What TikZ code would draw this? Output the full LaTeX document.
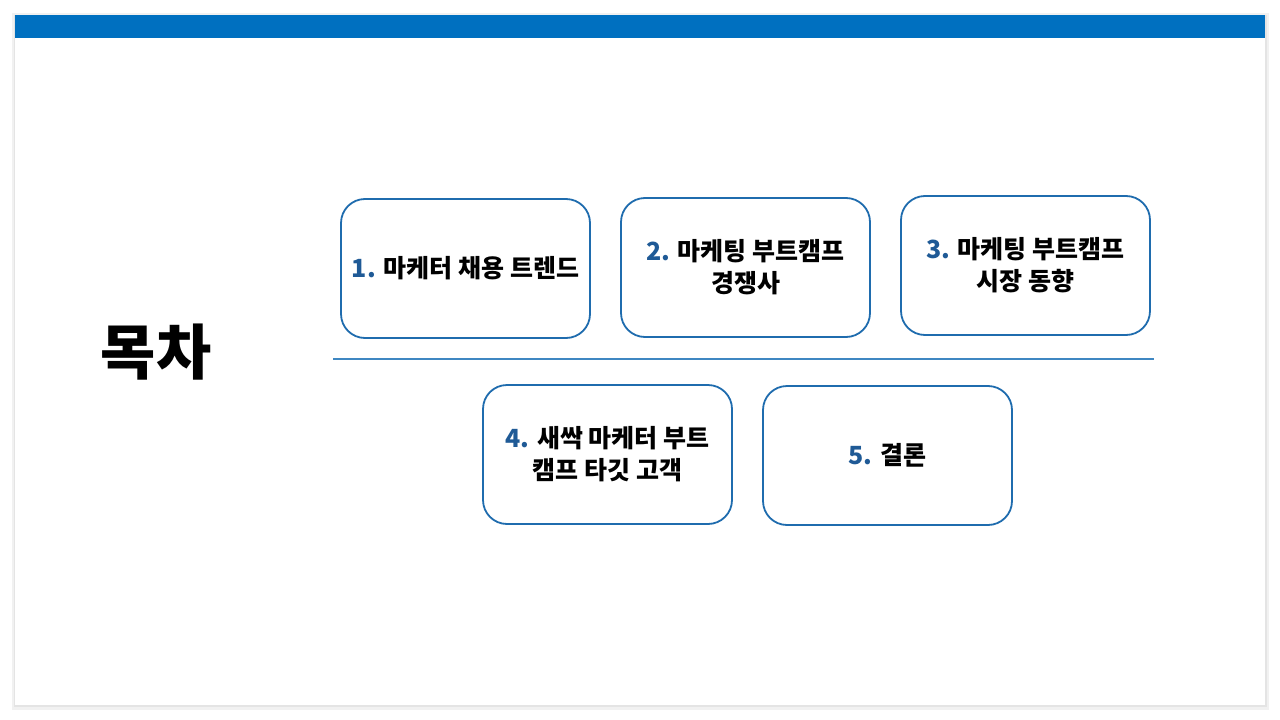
\documentclass[tikz,border=0pt]{standalone}
\usepackage{fontspec}
\setmainfont{Noto Sans CJK KR}
\definecolor{topbar}{HTML}{0070C0}
\definecolor{boxline}{HTML}{1F6CAE}
\definecolor{numcol}{HTML}{1F5A96}
\definecolor{sepline}{HTML}{3F87C2}
\definecolor{shadowc}{HTML}{E4E4E4}
\tikzset{
  tocbox/.style={draw=boxline, line width=1.8pt, rounded corners=24pt, fill=white,
    minimum width=249pt, minimum height=139pt, align=center, inner sep=0pt,
    font=\fontsize{25}{32}\selectfont\bfseries},
}
\newcommand{\nm}[1]{{\color{numcol}#1}}
\begin{document}
\begin{tikzpicture}[x=1pt,y=-1pt]
\useasboundingbox (0,0) rectangle (1280,720);
\fill[white] (0,0) rectangle (1280,720);
% shadow and slide
\fill[shadowc!50] (12,13) rectangle (1269,710);
\fill[shadowc] (14,15) rectangle (1267,707);
\fill[white] (15,15) rectangle (1265,705);
\fill[topbar] (15,15) rectangle (1265,38);
% title
\node[font=\fontsize{60}{60}\selectfont\bfseries, inner sep=0pt] (title) at (156,352) {목차};
% boxes
\node[tocbox] (b1) at (465.5,268.5) {\nm{1.} 마케터 채용 트렌드};
\node[tocbox] (b2) at (745.5,267.5) {\nm{2.} 마케팅 부트캠프\\경쟁사};
\node[tocbox] (b3) at (1025.5,265.5) {\nm{3.} 마케팅 부트캠프\\시장 동향};
\node[tocbox] (b4) at (607.5,454.5) {\nm{4.} 새싹 마케터 부트\\캠프 타깃 고객};
\node[tocbox] (b5) at (887.5,455.5) {\nm{5.} 결론};
% separator
\coordinate (sl) at (333,359);
\coordinate (sr) at (1154,359);
\draw[sepline, line width=1.3pt] (sl) -- (sr);
\end{tikzpicture}
\end{document}
